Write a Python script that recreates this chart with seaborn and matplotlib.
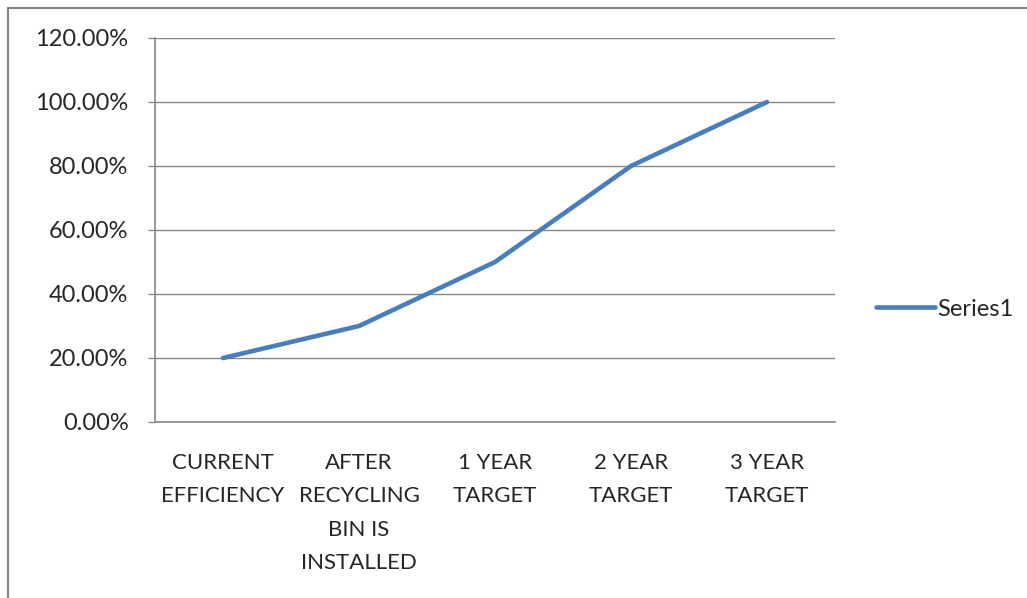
import matplotlib.pyplot as plt
import matplotlib.lines as mlines
import numpy as np
import seaborn as sns
import pandas as pd

sns.set_style('white')
plt.rcParams.update({'font.family'  : ['Lato', 'DejaVu Sans'],
                     'font.size'    : 16})

#-- data --
categories  = ['CURRENT\nEFFICIENCY', 'AFTER\nRECYCLING\nBIN IS\nINSTALLED',
               '1 YEAR\nTARGET', '2 YEAR\nTARGET', '3 YEAR\nTARGET']
series1     = [0.20, 0.30, 0.50, 0.80, 1.00]
y_ticks     = [0.0, 0.2, 0.4, 0.6, 0.8, 1.0, 1.2]

grey        = '#868686'
blue        = '#4A7EBB'

df = pd.DataFrame({'cat': categories, 'val': series1, 'series': 'Series1'})

W, H = 1027, 598
fig = plt.figure(figsize=(W / 100, H / 100), dpi=100)
ax = fig.add_axes([155 / W, 1 - 422 / H, (835 - 155) / W, (422 - 38) / H])

sns.lineplot(data=df, x='cat', y='val', hue='series', palette=[blue],
             linewidth=3.3, ax=ax, sort=False)

ax.set_xlim(-0.5, len(categories) - 0.5)
ax.set_ylim(0, 1.2)
ax.set_yticks(y_ticks)
ax.set_yticklabels([f'{v * 100:.2f}%' for v in y_ticks], fontsize=17)
ax.set_xticks(range(len(categories)))
ax.set_xticklabels(categories, linespacing=1.85, fontsize=16)
ax.set_xticks(np.arange(-0.5, len(categories)), minor=True)
ax.tick_params(axis='x', which='major', length=0, pad=22)
ax.tick_params(axis='x', which='minor', length=5, width=1, color=grey, direction='out')
ax.tick_params(axis='y', length=5, width=1, color=grey, pad=14, left=True)
ax.set_xlabel('')
ax.set_ylabel('')
ax.grid(axis='y', color=grey, linewidth=1)
ax.set_axisbelow(True)
for s in ['top', 'right']:
    ax.spines[s].set_visible(False)
for s in ['left', 'bottom']:
    ax.spines[s].set_color(grey)
    ax.spines[s].set_linewidth(1.2)

ax.legend(loc='center left', bbox_to_anchor=(855 / W, 1 - 309 / H),
          bbox_transform=fig.transFigure, frameon=False,
          handlelength=2.5, handletextpad=0.1, fontsize=17)

# outer chart border (left and top only visible)
fig.add_artist(mlines.Line2D([8 / W, 8 / W], [0, 1 - 8 / H], color=grey, linewidth=1.5))
fig.add_artist(mlines.Line2D([8 / W, 1], [1 - 8 / H, 1 - 8 / H], color=grey, linewidth=1.5))

plt.savefig('out.png', dpi=100)
